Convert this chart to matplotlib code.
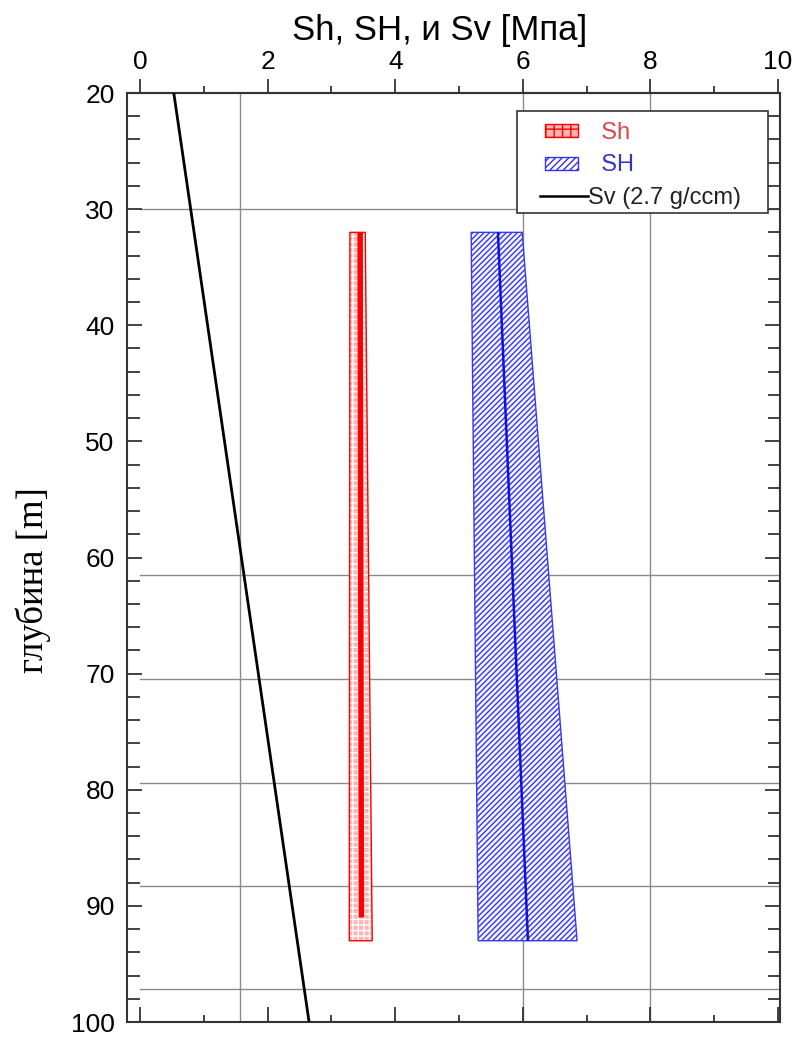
import matplotlib
matplotlib.use('Agg')
import matplotlib.pyplot as plt
from matplotlib.patches import Polygon, Rectangle
from matplotlib.lines import Line2D
from matplotlib.legend_handler import HandlerPatch, HandlerBase
from matplotlib.ticker import MultipleLocator

# depth interval of the Sh / SH bands [m]
band_depth = [32, 93]

# Sh band (MPa): left edge, right edge and middle at top / bottom of the interval
sh_left = [3.29, 3.28]
sh_right = [3.53, 3.64]
sh_mid = [3.45, 3.47]
sh_mid_depth = [32, 91]

# SH band (MPa)
SH_left = [5.19, 5.30]
SH_right = [5.99, 6.85]
SH_mid = [5.61, 6.08]

# vertical stress for 2.7 g/ccm
sv_depth = [20, 100]
sv_value = [0.53, 2.65]

# odd grid lines that are in the picture
grid_x = [1.57, 6.0, 8.0]
grid_y = [30, 61.5, 70.5, 79.4, 88.3, 97.2]

plt.rcParams['font.family'] = ['Liberation Sans', 'DejaVu Sans']
plt.rcParams['hatch.linewidth'] = 1.0

fig = plt.figure(figsize=(8, 10.38), dpi=100)
ax = fig.add_axes([0.159, 0.0154, 0.816, 0.895])

ax.set_xlim(-0.2, 10.03)
ax.set_ylim(100, 20)

for gx in grid_x:
    ax.axvline(gx, color='#8a8a8a', lw=1.0, zorder=1)
for gy in grid_y:
    ax.plot([0, 10.03], [gy, gy], color='#8a8a8a', lw=1.0, zorder=1)


def band(left, right):
    return [(left[0], band_depth[0]), (right[0], band_depth[0]),
            (right[1], band_depth[1]), (left[1], band_depth[1])]


# Sh: pink fill with white grid, red outline
ax.add_patch(Polygon(band(sh_left, sh_right), closed=True, facecolor='#ffb3b3',
                     edgecolor='white', hatch='+++', lw=0, zorder=3))
ax.add_patch(Polygon(band(sh_left, sh_right), closed=True, facecolor='none',
                     edgecolor='red', lw=1.0, zorder=4))
ax.plot(sh_mid, sh_mid_depth, color='red', lw=4, solid_capstyle='butt', zorder=5)

# SH: blue diagonal hatch
ax.add_patch(Polygon(band(SH_left, SH_right), closed=True, facecolor='#f4f4ff',
                     edgecolor='#3838ee', hatch='//////', lw=1.0, zorder=3))
ax.plot(SH_mid, band_depth, color='#1111dd', lw=1.8, solid_capstyle='butt', zorder=5)

ax.plot(sv_value, sv_depth, color='black', lw=2.0, zorder=6)

# ticks
ax.xaxis.set_major_locator(MultipleLocator(2))
ax.xaxis.set_minor_locator(MultipleLocator(1))
ax.yaxis.set_major_locator(MultipleLocator(10))
ax.yaxis.set_minor_locator(MultipleLocator(2))
ax.tick_params(axis='x', which='both', direction='in', bottom=True, top=False,
               labelbottom=False, color='#333333', width=1.3)
ax.tick_params(axis='x', which='major', length=10.5)
ax.tick_params(axis='x', which='minor', length=5)
ax.tick_params(axis='y', which='both', direction='in', left=True, right=True,
               color='#333333', width=1.3, labelsize=19, pad=9)
ax.tick_params(axis='y', which='major', length=10.5)
ax.tick_params(axis='y', which='minor', length=9)
for sp in ax.spines.values():
    sp.set_linewidth(1.5)
    sp.set_color('#333333')

top = ax.secondary_xaxis('top')
top.xaxis.set_major_locator(MultipleLocator(2))
top.xaxis.set_minor_locator(MultipleLocator(1))
top.set_xticks([0, 2, 4, 6, 8, 10])
top.tick_params(axis='x', which='both', direction='out', color='#333333',
                width=1.3, labelsize=19, pad=4)
top.tick_params(axis='x', which='major', length=10)
top.tick_params(axis='x', which='minor', length=5)
top.spines['top'].set_linewidth(1.5)
top.spines['top'].set_color('#333333')

ax.text(0.479, 1.057, 'Sh, SH, и Sv [Мпа]', transform=ax.transAxes,
        ha='center', va='baseline', fontsize=25)
ax.text(-0.144, 0.476, 'глубина [m]', transform=ax.transAxes, rotation=90,
        ha='center', va='center', fontsize=26.5,
        family=['Liberation Serif', 'DejaVu Serif'])


# legend: handles drawn narrower than the handle box
def small_rect(legend, orig_handle, xdescent, ydescent, width, height, fontsize):
    return Rectangle((width * 0.25 - xdescent, -ydescent + height * 0.1),
                     width * 0.58, height * 0.8)


class ShortLine(HandlerBase):
    def create_artists(self, legend, orig_handle, xdescent, ydescent,
                       width, height, fontsize, trans):
        y = height / 2 - ydescent
        ln = Line2D([width * 0.16 - xdescent, width - xdescent], [y, y],
                    color=orig_handle.get_color(), lw=orig_handle.get_linewidth())
        ln.set_transform(trans)
        return [ln]


sh_h = Polygon([[0, 0]], facecolor='#ffb3b3', edgecolor='red', hatch='++', lw=1.0)
SH_h = Polygon([[0, 0]], facecolor='white', edgecolor='#3333ee', hatch='/////', lw=1.0)
sv_h = Line2D([], [], color='black', lw=1.8)
leg = ax.legend([sh_h, SH_h, sv_h], ['  Sh', '  SH', 'Sv (2.7 g/ccm)'],
                loc='upper left', bbox_to_anchor=(0.619, 0.969), fontsize=17,
                frameon=False, handlelength=2.4, handletextpad=0.02,
                borderpad=0, labelspacing=0.45, borderaxespad=0,
                labelcolor=['#d84848', '#3535c8', '#222222'],
                handler_map={Polygon: HandlerPatch(patch_func=small_rect),
                             Line2D: ShortLine()})
leg.set_zorder(11)

# legend frame
ax.add_patch(Rectangle((0.597, 0.871), 0.385, 0.110, transform=ax.transAxes,
                       facecolor='white', edgecolor='#333333', lw=1.2, zorder=10))

fig.savefig('out.png', dpi=100)
